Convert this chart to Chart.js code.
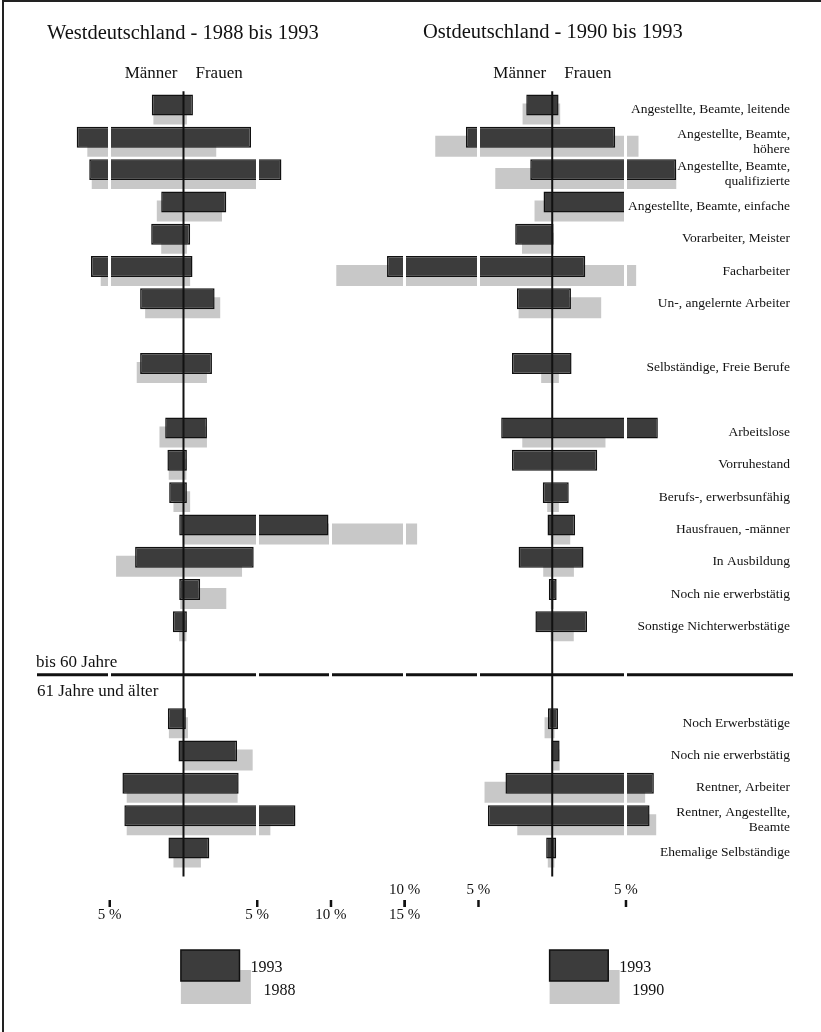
<!DOCTYPE html>
<html lang="de">
<head>
<meta charset="utf-8">
<title>West- und Ostdeutschland</title>
<script src="https://cdn.jsdelivr.net/npm/chart.js@4.4.1/dist/chart.umd.min.js"></script>
<style>
  html, body { margin: 0; padding: 0; background: #fff; }
  #wrap { position: relative; width: 821px; height: 1032px; }
</style>
</head>
<body>
<div id="wrap"><canvas id="pyramid"></canvas></div>
<script>
// rows from top to bottom, '' = empty row
var categories = [
    'Angestellte, Beamte, leitende',
    ['Angestellte, Beamte,', 'höhere'],
    ['Angestellte, Beamte,', 'qualifizierte'],
    'Angestellte, Beamte, einfache',
    'Vorarbeiter, Meister',
    'Facharbeiter',
    'Un-, angelernte Arbeiter',
    '',
    'Selbständige, Freie Berufe',
    '',
    'Arbeitslose',
    'Vorruhestand',
    'Berufs-, erwerbsunfähig',
    'Hausfrauen, -männer',
    'In Ausbildung',
    'Noch nie erwerbstätig',
    'Sonstige Nichterwerbstätige',
    '',
    '',
    'Noch Erwerbstätige',
    'Noch nie erwerbstätig',
    'Rentner, Arbeiter',
    ['Rentner, Angestellte,', 'Beamte'],
    'Ehemalige Selbständige'
];

// percent values, men and women
var westMen1993   = [2.15, 7.24, 6.39, 1.51, 2.19, 6.27, 2.94, null, 2.94, null, 1.24, 1.09, 0.97, 0.29, 3.28, 0.29, 0.72, null, null, 1.06, 0.34, 4.14, 4.01, 1.02];
var westWomen1993 = [0.64, 4.58, 6.64, 2.90, 0.45, 0.61, 2.11, null, 1.93, null, 1.59, 0.23, 0.23, 9.83, 4.76, 1.13, 0.23, null, null, 0.16, 3.63, 3.74, 7.59, 1.75];
var westMen1988   = [2.04, 6.52, 6.22, 1.81, 1.51, 5.61, 2.60, null, 3.17, null, 1.63, 1.00, 0.68, 0.05, 4.57, 0.22, 0.30, null, null, 0.99, 0.00, 3.85, 3.85, 0.68];
var westWomen1988 = [0.23, 2.22, 4.99, 2.61, 0.23, 0.45, 2.49, null, 1.59, null, 1.59, 0.20, 0.45, 15.84, 3.97, 2.90, 0.20, null, null, 0.30, 4.69, 3.67, 5.89, 1.18];

var eastMen1993   = [1.76, 5.85, 1.49, 0.59, 2.51, 11.20, 2.39, null, 2.73, null, 3.46, 2.73, 0.64, 0.32, 2.28, 0.23, 1.14, null, null, 0.29, 0.05, 3.17, 4.36, 0.41];
var eastWomen1993 = [0.43, 4.27, 8.41, 5.02, 0.09, 2.24, 1.27, null, 1.31, null, 7.16, 3.05, 1.12, 1.55, 2.12, 0.30, 2.36, null, null, 0.39, 0.50, 6.89, 6.60, 0.27];
var eastMen1990   = [2.01, 7.93, 3.86, 1.20, 2.05, 14.64, 2.28, null, 0.75, null, 2.03, null, 0.34, 0.10, 0.61, 0.10, 0.12, null, null, 0.52, 0.05, 4.59, 2.37, 0.30];
var eastWomen1990 = [0.54, 5.85, 8.41, 5.00, 0.10, 5.69, 3.32, null, 0.45, null, 3.61, null, 0.45, 1.22, 1.47, 0.10, 1.46, null, null, 0.16, 0.50, 6.30, 7.05, 0.15];

var titles = ['Westdeutschland - 1988 bis 1993', 'Ostdeutschland - 1990 bis 1993'];
var sexLabels = ['Männer', 'Frauen'];
var sectionLabels = ['bis 60 Jahre', '61 Jahre und älter'];
var westYears = ['1993', '1988'];
var eastYears = ['1993', '1990'];
var westTicks = [-5, 5, 10, 15];
var eastTicks = [-10, -5, 5];

// both panels share one x axis, the east panel's zero sits at 25
var EAST_ZERO = 25;
var gridValues = [-5, 5, 10, 15, 20, 30];
var SERIF = '"Liberation Serif", "DejaVu Serif", serif';
var DARK = '#3c3c3c';
var LIGHT = '#c8c8c8';
var INK = '#111';

// men to the left of zero, women to the right
function spans(men, women, zero) {
    return men.map(function(m, i) {
        if (m == null || women[i] == null) return null;
        return [zero - m, zero + women[i]];
    });
}

var decorations = {
    id: 'decorations',
    beforeDraw: function(chart) {
        var c = chart.ctx;
        c.save();
        c.fillStyle = '#fff';
        c.fillRect(0, 0, chart.width, chart.height);
        c.strokeStyle = '#222';
        c.lineWidth = 2;
        c.beginPath();
        c.moveTo(3, chart.height);
        c.lineTo(3, 1);
        c.lineTo(chart.width, 1);
        c.stroke();
        c.restore();
    },
    afterDatasetsDraw: function(chart) {
        // age group separator, drawn before the white grid so the grid cuts it
        var c = chart.ctx, ys = chart.scales.y, a = chart.chartArea;
        var sepY = (ys.getPixelForValue(17) + ys.getPixelForValue(18)) / 2;
        c.save();
        c.strokeStyle = INK;
        c.lineWidth = 3;
        c.beginPath();
        c.moveTo(a.left + 1, sepY);
        c.lineTo(a.right - 2, sepY);
        c.stroke();
        c.restore();
    },
    afterDraw: function(chart) {
        var c = chart.ctx, xs = chart.scales.x, ys = chart.scales.y, a = chart.chartArea;
        var x0 = xs.getPixelForValue(0);
        var x1 = xs.getPixelForValue(EAST_ZERO);
        var sepY = (ys.getPixelForValue(17) + ys.getPixelForValue(18)) / 2;
        c.save();

        // centre lines
        c.strokeStyle = INK;
        c.lineWidth = 2;
        [x0, x1].forEach(function(x) {
            c.beginPath();
            c.moveTo(x, a.top - 2);
            c.lineTo(x, a.bottom + 8);
            c.stroke();
        });

        c.fillStyle = INK;
        c.textBaseline = 'alphabetic';

        // titles
        c.font = '20.5px ' + SERIF;
        c.textAlign = 'left';
        c.fillText(titles[0], 47, 39);
        c.fillText(titles[1], 423, 38);

        // Männer / Frauen
        c.font = '17px ' + SERIF;
        [x0, x1].forEach(function(x) {
            c.textAlign = 'right';
            c.fillText(sexLabels[0], x - 6, 78);
            c.textAlign = 'left';
            c.fillText(sexLabels[1], x + 12, 78);
        });

        // section labels
        c.textAlign = 'left';
        c.fillText(sectionLabels[0], 36, sepY - 8);
        c.fillText(sectionLabels[1], 37, sepY + 21);

        // percent ticks
        c.font = '15px ' + SERIF;
        c.textAlign = 'center';
        c.lineWidth = 2.5;
        function tick(x) {
            c.beginPath();
            c.moveTo(x, 900);
            c.lineTo(x, 907);
            c.stroke();
        }
        westTicks.forEach(function(v) {
            var x = xs.getPixelForValue(v);
            tick(x);
            c.fillText(Math.abs(v) + ' %', x, 919);
        });
        eastTicks.forEach(function(v) {
            var x = xs.getPixelForValue(EAST_ZERO + v);
            tick(x);
            c.fillText(Math.abs(v) + ' %', x, 894);
        });

        // legends
        function legend(x, years) {
            var left = x - 2.6;
            c.fillStyle = LIGHT;
            c.fillRect(left, 970, 70, 34);
            c.fillStyle = DARK;
            c.fillRect(left, 950, 58.6, 31);
            c.strokeStyle = INK;
            c.lineWidth = 1.5;
            c.strokeRect(left, 950, 58.6, 31);
            c.fillStyle = INK;
            c.font = '16px ' + SERIF;
            c.textAlign = 'left';
            c.fillText(years[0], left + 69.5, 972);
            c.fillText(years[1], left + 82.5, 995);
        }
        legend(x0, westYears);
        legend(x1, eastYears);

        c.restore();
    }
};

var ctx = document.getElementById('pyramid').getContext('2d');
var pyramid = new Chart(ctx, {
    type: 'bar',
    data: {
        labels: categories,
        datasets: [{
            label: 'West ' + westYears[0],
            data: spans(westMen1993, westWomen1993, 0),
            stack: 'recent',
            backgroundColor: DARK,
            borderColor: INK,
            borderWidth: 1.5,
            borderSkipped: false
        }, {
            label: 'Ost ' + eastYears[0],
            data: spans(eastMen1993, eastWomen1993, EAST_ZERO),
            stack: 'recent',
            backgroundColor: DARK,
            borderColor: INK,
            borderWidth: 1.5,
            borderSkipped: false
        }, {
            label: 'West ' + westYears[1],
            data: spans(westMen1988, westWomen1988, 0),
            stack: 'earlier',
            backgroundColor: LIGHT,
            borderWidth: 0
        }, {
            label: 'Ost ' + eastYears[1],
            data: spans(eastMen1990, eastWomen1990, EAST_ZERO),
            stack: 'earlier',
            backgroundColor: LIGHT,
            borderWidth: 0
        }]
    },
    options: {
        indexAxis: 'y',
        responsive: true,
        maintainAspectRatio: false,
        animation: false,
        datasets: {
            bar: {
                categoryPercentage: 0.557,
                barPercentage: 2.33
            }
        },
        layout: {
            padding: { left: 36, right: 26, top: 93.35, bottom: 163.4 }
        },
        plugins: {
            legend: { display: false },
            tooltip: { enabled: false }
        },
        scales: {
            x: {
                type: 'linear',
                min: -10,
                max: 41.46,
                stacked: false,
                ticks: { display: false },
                afterBuildTicks: function(scale) {
                    scale.ticks = gridValues.map(function(v) { return { value: v }; });
                },
                afterFit: function(scale) { scale.height = 0; },
                border: { display: false },
                grid: {
                    z: 1,
                    color: '#fff',
                    lineWidth: 3,
                    drawTicks: false
                }
            },
            y: {
                type: 'category',
                position: 'right',
                offset: true,
                grid: { display: false },
                border: { display: false },
                afterFit: function(scale) { scale.width = 0; },
                ticks: {
                    mirror: true,
                    padding: -5,
                    autoSkip: false,
                    color: INK,
                    font: { family: SERIF, size: 13.5, lineHeight: 1.15 }
                }
            }
        }
    },
    plugins: [decorations]
});
</script>
</body>
</html>
